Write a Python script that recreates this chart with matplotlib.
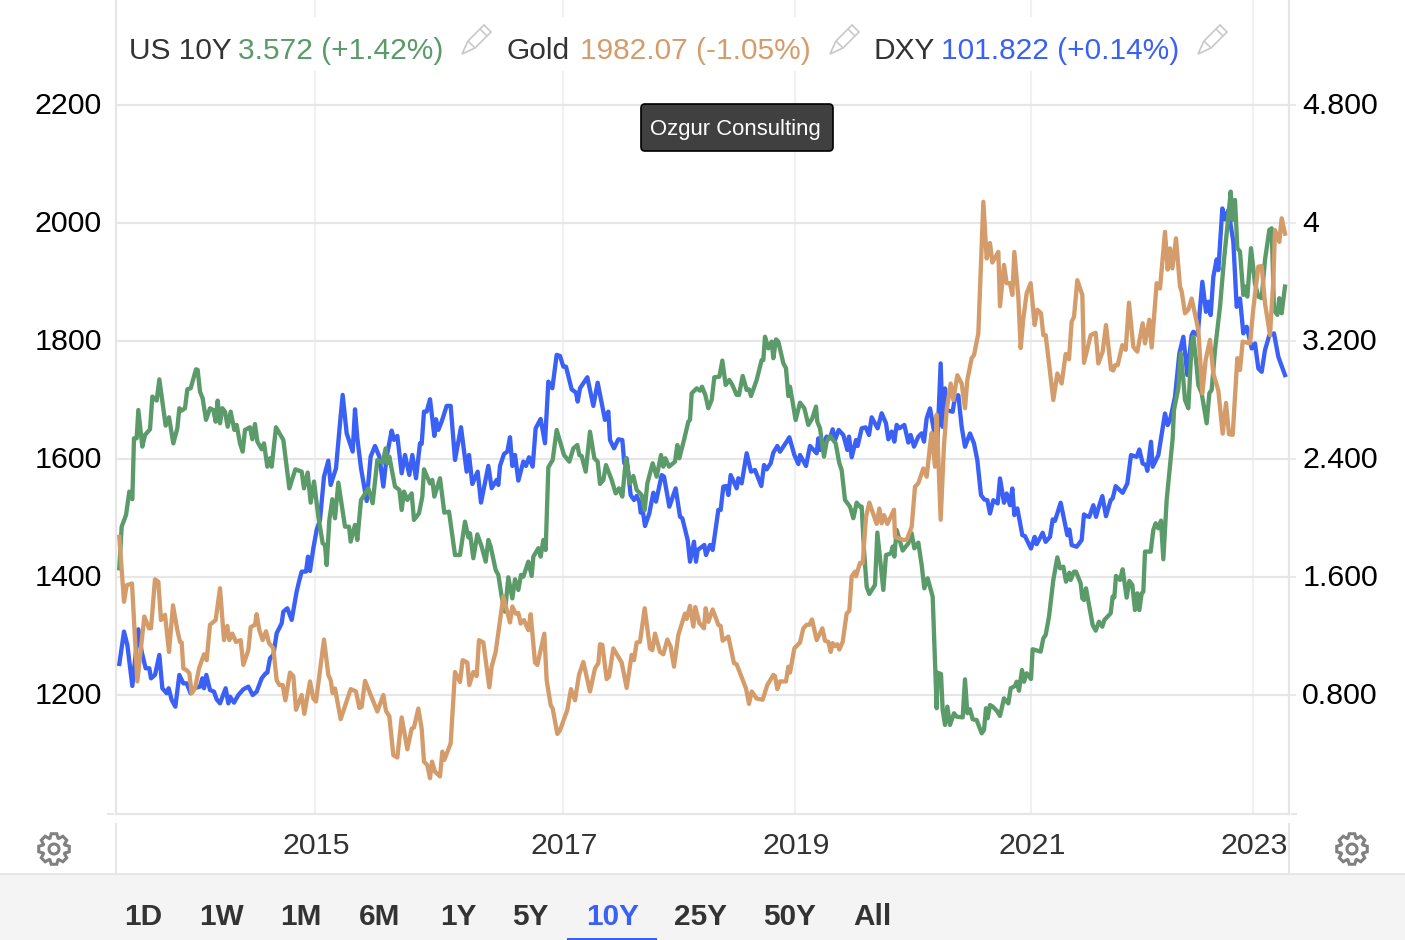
"""
US 10Y yield, gold and the dollar index over ten years, three independent scales.
"""

import numpy as np
import matplotlib
matplotlib.use("Agg")
import matplotlib.pyplot as plt
from matplotlib.lines import Line2D
from matplotlib.patches import Circle, FancyBboxPatch, Polygon, Rectangle
from matplotlib.transforms import Affine2D, IdentityTransform

plt.rcParams["font.family"] = ["Liberation Sans", "DejaVu Sans"]

# x is a bar number on the chart's ordinal time axis
gold_bar = [10, 24, 32, 48, 64, 74, 85, 99, 105, 117, 127, 135, 147, 159, 171, 184, 192, 197, 202, 212, 220, 227, 237, 249, 264, 272, 282, 299, 312, 324, 334, 340, 349, 360, 374, 382, 397, 404, 417, 422, 430, 440, 450, 459, 472, 482, 490, 500, 508, 522, 532, 540, 557, 565, 582, 592, 600, 624, 637, 644, 650, 657, 674, 704, 720, 730, 737, 747, 784, 802, 810, 820, 832, 844, 857, 874, 887, 894, 907, 917, 924, 934, 942, 948, 957, 972, 979, 985, 1004, 1017, 1032, 1040, 1054, 1060, 1072, 1082, 1089, 1102, 1120, 1127, 1139, 1162, 1182, 1189, 1199, 1207, 1214, 1224, 1237, 1244, 1257, 1264, 1285, 1292, 1304, 1310, 1324, 1332,
            1354, 1365, 1377, 1389, 1402, 1422, 1437, 1447, 1452, 1459, 1472, 1479, 1492, 1517, 1532, 1547, 1554, 1562, 1572, 1586, 1602, 1609, 1617, 1632, 1642, 1654, 1664, 1674, 1687, 1707, 1712, 1722, 1732, 1738, 1750, 1764, 1769, 1777, 1790, 1807, 1814, 1820, 1837, 1854, 1862, 1890, 1899, 1907, 1922, 1940, 1954, 1972, 1977, 1984, 1992, 2010, 2017, 2022, 2035, 2052, 2062, 2072, 2080, 2088, 2102, 2119, 2127, 2137, 2144, 2150, 2157, 2164, 2170, 2180, 2192, 2200, 2207, 2217, 2220, 2232, 2240, 2250, 2260, 2282, 2290, 2297, 2304, 2314, 2334, 2337, 2362, 2372, 2387, 2397, 2407, 2422, 2432, 2444,
            2447, 2457, 2462, 2474, 2484, 2492, 2504, 2512, 2524, 2537, 2547, 2554, 2567, 2574, 2587, 2602, 2612, 2622, 2629, 2647, 2652, 2664, 2672, 2682, 2689, 2695, 2707, 2714, 2722, 2732, 2744, 2756, 2764, 2775, 2782, 2789, 2812, 2824, 2837, 2849, 2859, 2867, 2874, 2884, 2899, 2904, 2924, 2939, 2947, 2960, 2970, 2985, 2992, 2997, 3005, 3019, 3029, 3039, 3052, 3064, 3080, 3087, 3100, 3107, 3122, 3132, 3147, 3155, 3162, 3169, 3180, 3192, 3197, 3207, 3217, 3227, 3247, 3259, 3269, 3282, 3292, 3307, 3320, 3330, 3339, 3350, 3364, 3372, 3380, 3402, 3412, 3427, 3437, 3447, 3462, 3472, 3477, 3490, 3497, 3507]
gold_price = [1468, 1358, 1386, 1389, 1223, 1276, 1333, 1313, 1313, 1396, 1392, 1327, 1336, 1273, 1352, 1310, 1290, 1289, 1245, 1242, 1237, 1203, 1211, 1245, 1269, 1259, 1319, 1327, 1381, 1293, 1317, 1293, 1304, 1290, 1293, 1251, 1276, 1315, 1319, 1337, 1310, 1293, 1308, 1288, 1279, 1225, 1217, 1217, 1191, 1238, 1232, 1175, 1200, 1168, 1223, 1194, 1189, 1294, 1234, 1225, 1203, 1211, 1159, 1210, 1206, 1178, 1180, 1224, 1172, 1200, 1173, 1164, 1098, 1094, 1162, 1108, 1143, 1145, 1177, 1143, 1087, 1081, 1059, 1087, 1070, 1062, 1104, 1090, 1118, 1239, 1222, 1259, 1255, 1217, 1239, 1232, 1293, 1289, 1213, 1248, 1273, 1367, 1323, 1350, 1338, 1339, 1321, 1327, 1310, 1337, 1255, 1251, 1304, 1225, 1183, 1177, 1134, 1140,
              1175, 1210, 1191, 1234, 1256, 1206, 1245, 1254, 1286, 1285, 1227, 1231, 1279, 1255, 1212, 1268, 1259, 1289, 1290, 1347, 1279, 1276, 1304, 1273, 1269, 1294, 1282, 1248, 1302, 1338, 1329, 1351, 1316, 1349, 1322, 1313, 1347, 1324, 1345, 1319, 1317, 1292, 1299, 1254, 1252, 1211, 1185, 1206, 1194, 1192, 1217, 1234, 1232, 1210, 1223, 1223, 1248, 1238, 1279, 1289, 1313, 1319, 1319, 1328, 1293, 1313, 1292, 1290, 1273, 1288, 1283, 1286, 1277, 1290, 1338, 1343, 1401, 1409, 1401, 1424, 1423, 1502, 1526, 1490, 1516, 1491, 1505, 1490, 1514, 1468, 1463, 1463, 1485, 1553, 1559, 1584, 1570, 1632,
              1644, 1587, 1675, 1497, 1624, 1683, 1728, 1700, 1742, 1728, 1686, 1734, 1771, 1776, 1813, 2036, 1940, 1966, 1933, 1951, 1859, 1929, 1898, 1898, 1878, 1951, 1875, 1788, 1838, 1881, 1898, 1827, 1853, 1847, 1810, 1810, 1700, 1745, 1728, 1778, 1769, 1833, 1841, 1903, 1878, 1763, 1810, 1814, 1762, 1782, 1827, 1752, 1750, 1759, 1759, 1793, 1785, 1865, 1790, 1782, 1830, 1796, 1836, 1789, 1898, 1889, 1985, 1921, 1957, 1923, 1974, 1892, 1884, 1847, 1853, 1872, 1819, 1711, 1768, 1802, 1745, 1716, 1643, 1695, 1642, 1641, 1771, 1751, 1799, 1796, 1855, 1926, 1927, 1864, 1810, 1903, 1988, 1968, 2008, 1982]

dxy_bar = [10, 24, 34, 49, 67, 77, 89, 100, 105, 117, 130, 139, 152, 158, 167, 178, 190, 202, 212, 224, 235, 252, 259, 264, 271, 282, 294, 302, 312, 329, 337, 342, 354, 367, 382, 397, 410, 422, 437, 449, 454, 462, 472, 482, 497, 502, 514, 527, 542, 549, 557, 570, 576, 582, 592, 602, 612, 624, 637, 644, 660, 672, 680, 692, 710, 717, 724, 735, 752, 764, 777, 790, 802, 812, 827, 834, 844, 857, 867, 880, 889, 900, 912, 917, 924, 932, 942, 955, 960, 967, 977, 992, 1004, 1017, 1035, 1052, 1059, 1069, 1085, 1095, 1117, 1127, 1142, 1147, 1152, 1164, 1174, 1182, 1189, 1197, 1207, 1222, 1230, 1239, 1250, 1259, 1274, 1287, 1297, 1309, 1322, 1332,
           1342, 1350, 1367, 1380, 1385, 1392, 1414, 1432, 1445, 1467, 1477, 1482, 1494, 1507, 1519, 1525, 1532, 1544, 1554, 1562, 1570, 1574, 1580, 1587, 1600, 1612, 1620, 1637, 1644, 1660, 1679, 1692, 1699, 1715, 1722, 1734, 1740, 1745, 1765, 1770, 1782, 1790, 1807, 1814, 1822, 1832, 1837, 1844, 1862, 1867, 1877, 1892, 1905, 1917, 1936, 1944, 1952, 1964, 1972, 1984, 1992, 2012, 2020, 2035, 2047, 2052, 2070, 2082, 2102, 2107, 2112, 2132, 2142, 2150, 2157, 2168, 2182, 2194, 2199, 2207, 2220, 2225, 2237, 2249, 2259, 2267, 2285, 2297, 2310, 2317, 2327, 2335, 2342, 2350, 2365, 2377, 2384, 2394, 2407, 2417, 2424, 2432, 2442,
           2457, 2464, 2474, 2480, 2487, 2492, 2510, 2517, 2527, 2537, 2547, 2562, 2574, 2584, 2595, 2605, 2614, 2622, 2632, 2645, 2652, 2664, 2672, 2682, 2689, 2695, 2704, 2719, 2727, 2745, 2756, 2762, 2780, 2789, 2802, 2810, 2817, 2834, 2854, 2860, 2867, 2882, 2897, 2904, 2912, 2920, 2932, 2940, 2947, 2959, 2970, 2984, 2990, 2999, 3020, 3034, 3045, 3062, 3070, 3080, 3090, 3094, 3105, 3110, 3127, 3147, 3155, 3162, 3177, 3190, 3202, 3214, 3227, 3232, 3245, 3259, 3270, 3277, 3284, 3292, 3302, 3307, 3319, 3327, 3337, 3352, 3362, 3372, 3382, 3392, 3400, 3407, 3417, 3427, 3437, 3447, 3460, 3474, 3487, 3507]
dxy_index = [80.52, 82.90, 81.92, 78.90, 83.07, 81.42, 80.20, 80.20, 79.46, 79.71, 81.18, 78.73, 78.36, 78.73, 77.87, 77.37, 79.71, 79.09, 79.09, 78.36, 78.73, 78.85, 79.46, 78.73, 79.71, 78.60, 78.48, 77.91, 77.62, 78.73, 77.62, 78.11, 77.67, 78.23, 78.65, 78.85, 78.23, 78.48, 79.46, 79.83, 79.88, 80.94, 81.18, 82.78, 83.51, 84.37, 84.62, 83.76, 85.85, 86.58, 87.32, 87.32, 88.42, 87.37, 89.04, 90.39, 91.12, 94.31, 95.49, 93.70, 94.93, 98.24, 100.33, 97.50, 96.16, 99.27, 97.14, 94.93, 92.52, 95.79, 96.57, 95.79, 93.58, 95.79, 97.70, 97.02, 97.31, 94.56, 95.91, 94.44, 95.91, 94.19, 96.77, 96.72, 99.10, 99.10, 100.01, 97.31, 98.54, 97.75, 98.37, 99.52, 99.52, 95.54, 97.95, 94.68, 95.91, 93.77, 94.68, 92.40, 95.10, 93.46, 94.07, 93.70, 95.10, 95.98, 96.16, 97.21, 95.10, 95.91, 94.02, 95.42, 95.10, 95.74, 95.05, 97.87, 98.56, 96.77, 101.31, 100.82, 103.28, 103.20,
             102.41, 102.41, 100.74, 100.50, 99.84, 100.82, 101.63, 99.52, 101.23, 98.49, 99.10, 97.01, 96.40, 97.06, 97.01, 95.29, 95.66, 92.96, 92.59, 92.89, 92.47, 91.66, 91.86, 90.68, 91.61, 93.13, 92.47, 94.43, 94.31, 92.10, 93.45, 91.37, 91.24, 89.65, 88.05, 89.52, 88.05, 88.91, 89.28, 88.54, 89.28, 88.91, 91.86, 91.86, 93.58, 93.62, 92.96, 94.43, 93.45, 94.19, 93.82, 96.03, 94.68, 94.80, 93.62, 95.17, 94.85, 95.29, 96.08, 96.57, 96.15, 96.89, 97.21, 95.91, 95.24, 95.91, 95.10, 96.57, 96.03, 97.13, 96.28, 97.26, 97.13, 97.80, 97.01, 97.75, 97.38, 96.28, 97.26, 95.74, 97.01, 96.57, 97.87, 97.94, 97.38, 98.68, 97.87, 98.98, 98.24, 97.06, 97.63, 96.89, 98.12, 97.87, 98.12, 96.82, 97.38, 96.52, 97.26, 97.50, 96.89, 98.61, 99.34,
             97.25, 96.76, 102.65, 97.98, 100.81, 99.21, 99.09, 100.19, 100.31, 97.98, 96.51, 97.49, 96.76, 95.53, 92.95, 92.63, 92.58, 91.60, 92.58, 92.34, 94.18, 92.39, 93.07, 92.21, 93.44, 91.48, 91.97, 90.00, 89.93, 89.02, 89.88, 89.34, 90.18, 89.51, 89.88, 91.16, 91.06, 92.39, 90.00, 90.42, 89.27, 89.15, 89.64, 91.53, 91.40, 91.35, 92.21, 91.35, 91.97, 92.88, 91.40, 92.58, 92.71, 93.61, 93.12, 93.81, 95.90, 95.77, 96.31, 95.28, 95.16, 94.74, 96.88, 95.04, 95.90, 98.96, 98.11, 98.47, 100.19, 103.38, 104.61, 101.79, 104.73, 104.98, 104.73, 108.66, 106.45, 107.19, 106.21, 109.03, 110.31, 109.52, 114.06, 113.25, 113.94, 111.61, 106.82, 107.43, 104.86, 105.35, 104.49, 103.75, 104.12, 102.28, 102.03, 103.63, 104.73, 104.86, 103.14, 101.79]

us10y_bar = [10, 17, 30, 40, 49, 54, 62, 67, 79, 87, 102, 109, 122, 130, 149, 159, 172, 184, 190, 197, 207, 214, 224, 240, 245, 252, 260, 270, 282, 292, 299, 305, 312, 319, 327, 335, 344, 355, 362, 372, 380, 387, 402, 409, 417, 424, 437, 444, 454, 462, 467, 480, 502, 520, 538, 557, 564, 575, 584, 594, 607, 620, 627, 632, 640, 649, 657, 667, 687, 699, 704, 717, 724, 735, 742, 757, 770, 784, 800, 809, 814, 820, 837, 850, 857, 864, 874, 887, 894, 909, 919, 924, 942, 949, 955, 972, 985, 999, 1017, 1032, 1047, 1057, 1062, 1072, 1084, 1097, 1109, 1117, 1124, 1139, 1147, 1157, 1167, 1177, 1189, 1197, 1207, 1215, 1222, 1237, 1247, 1252, 1267, 1274, 1282, 1289, 1297, 1310, 1322,
             1344, 1360, 1372, 1384, 1390, 1397, 1409, 1422, 1435, 1445, 1452, 1462, 1470, 1487, 1499, 1509, 1519, 1530, 1542, 1552, 1562, 1577, 1586, 1594, 1610, 1622, 1635, 1642, 1648, 1659, 1677, 1684, 1690, 1704, 1717, 1722, 1727, 1742, 1752, 1758, 1768, 1777, 1787, 1795, 1810, 1819, 1829, 1840, 1849, 1862, 1869, 1880, 1892, 1899, 1905, 1922, 1937, 1942, 1947, 1957, 1967, 1972, 1980, 1987, 2002, 2010, 2017, 2022, 2039, 2052, 2065, 2077, 2089, 2100, 2104, 2112, 2124, 2132, 2142, 2159, 2170, 2177, 2187, 2202, 2212, 2222, 2232, 2237, 2244, 2252, 2260, 2277, 2284, 2302, 2310, 2325, 2330, 2335, 2342, 2360, 2377, 2387, 2395, 2407, 2417, 2425, 2435, 2450, 2462, 2465, 2475, 2480, 2487, 2494, 2502,
             2514, 2522, 2540, 2547, 2554, 2562, 2570, 2582, 2597, 2604, 2610, 2615, 2622, 2630, 2642, 2652, 2664, 2677, 2684, 2697, 2702, 2709, 2718, 2724, 2732, 2745, 2750, 2774, 2782, 2789, 2799, 2812, 2824, 2832, 2842, 2850, 2860, 2864, 2874, 2880, 2894, 2899, 2904, 2910, 2930, 2939, 2949, 2959, 2965, 2984, 2990, 2995, 3000, 3012, 3020, 3032, 3040, 3049, 3057, 3064, 3070, 3077, 3082, 3087, 3104, 3112, 3119, 3127, 3135, 3142, 3152,
             3170, 3174, 3187, 3194, 3202, 3207, 3217, 3227, 3232, 3242, 3247, 3257, 3267, 3272, 3280, 3287, 3297, 3312, 3324, 3337, 3344, 3350, 3357, 3364, 3372, 3382, 3387, 3394, 3405, 3417, 3427, 3437, 3447, 3460, 3467, 3474, 3484, 3490, 3497, 3507]
us10y_yield = [1.659, 1.941, 2.020, 2.179, 2.127, 2.540, 2.540, 2.732, 2.484, 2.563, 2.601, 2.823, 2.796, 2.940, 2.626, 2.683, 2.506, 2.608, 2.744, 2.728, 2.744, 2.873, 2.879, 3.008, 3.004, 2.857, 2.811, 2.665, 2.744, 2.732, 2.653, 2.796, 2.642, 2.744, 2.721, 2.619, 2.721, 2.597, 2.631, 2.506, 2.450, 2.597, 2.615, 2.534, 2.637, 2.518, 2.466, 2.506, 2.348, 2.405, 2.348, 2.615, 2.529, 2.201, 2.330, 2.314, 2.201, 2.308, 2.104, 2.247, 2.009, 1.828, 1.817, 1.681, 1.987, 2.127, 1.998, 2.240, 1.941, 1.941, 1.840, 1.953, 1.851, 2.122, 2.145, 2.201, 2.100, 2.393, 2.375, 2.472, 2.371, 2.416, 2.213, 2.190, 2.054, 2.179, 2.122, 2.167, 1.987, 2.032, 2.145, 2.330, 2.235, 2.258, 2.145, 2.269, 2.036, 2.043, 1.749, 1.749, 1.975, 1.869, 1.896, 1.727, 1.889, 1.806, 1.704, 1.851, 1.806, 1.648, 1.614, 1.467, 1.365, 1.598, 1.455, 1.584, 1.512, 1.614, 1.602, 1.704, 1.607, 1.738, 1.795, 1.738, 1.851, 1.783, 2.344, 2.393, 2.597,
               2.427, 2.382, 2.472, 2.495, 2.427, 2.420, 2.314, 2.585, 2.405, 2.382, 2.231, 2.258, 2.359, 2.258, 2.167, 2.201, 2.145, 2.405, 2.235, 2.285, 2.190, 2.156, 2.054, 2.235, 2.371, 2.280, 2.427, 2.348, 2.405, 2.348, 2.382, 2.495, 2.405, 2.529, 2.653, 2.665, 2.845, 2.879, 2.863, 2.890, 2.834, 2.744, 2.800, 2.954, 2.958, 3.067, 2.902, 2.936, 2.902, 2.834, 2.834, 2.963, 2.868, 2.872, 2.827, 2.936, 3.071, 3.071, 3.229, 3.150, 3.196, 3.083, 3.211, 3.196, 3.049, 3.015, 2.827, 2.890, 2.664, 2.782, 2.744, 2.631, 2.676, 2.755, 2.653, 2.608, 2.416, 2.518, 2.556, 2.506, 2.371, 2.325, 2.122, 2.077, 1.998, 2.104, 2.077, 2.077, 1.783, 1.534, 1.485, 1.546, 1.901, 1.512, 1.749, 1.760, 1.806, 1.738, 1.919, 1.779, 1.828, 1.896, 1.794, 1.833, 1.681, 1.523, 1.591, 1.467, 0.710, 0.951, 0.942, 0.698, 0.597, 0.721, 0.597,
               0.676, 0.653, 0.648, 0.906, 0.676, 0.703, 0.635, 0.630, 0.540, 0.563, 0.710, 0.642, 0.732, 0.721, 0.694, 0.658, 0.777, 0.743, 0.845, 0.861, 0.890, 0.829, 0.969, 0.890, 0.947, 0.908, 1.110, 1.094, 1.184, 1.207, 1.331, 1.580, 1.733, 1.659, 1.670, 1.568, 1.629, 1.580, 1.636, 1.636, 1.557, 1.455, 1.444, 1.523, 1.274, 1.236, 1.297, 1.263, 1.308, 1.354, 1.467, 1.462, 1.607, 1.580, 1.652, 1.460, 1.573, 1.546, 1.376, 1.489, 1.376, 1.489, 1.500, 1.772, 1.772, 1.919, 1.964, 1.930, 1.982, 1.720, 2.122,
               2.540, 2.733, 2.880, 3.117, 2.936, 2.800, 2.744, 3.185, 3.230, 3.026, 2.902, 2.846, 2.710, 2.642, 2.846, 2.868, 3.139, 3.433, 3.750, 4.043, 4.213, 4.021, 4.156, 3.829, 3.806, 3.512, 3.569, 3.501, 3.829, 3.591, 3.501, 3.490, 3.750, 3.953, 3.964, 3.411, 3.377, 3.490, 3.388, 3.569]

year_bars = [597, 1341, 2037, 2745, 3411]
year_labels = ["2015", "2017", "2019", "2021", "2023"]
gold_ticks = [1200, 1400, 1600, 1800, 2000, 2200]
yield_ticks = [0.8, 1.6, 2.4, 3.2, 4.0, 4.8]
yield_labels = ["0.800", "1.600", "2.400", "3.200", "4", "4.800"]
range_buttons = ["1D", "1W", "1M", "6M", "1Y", "5Y", "10Y", "25Y", "50Y", "All"]

GREEN = "#5b9a69"
GOLD = "#d49c6a"
BLUE = "#3a60f5"
DARK = "#333333"
RULE = "#e6e6e6"
PIXEL = IdentityTransform()
HEIGHT = 940
LINE_WIDTH = 3.1
LABEL_SIZE = 21.9


def px_line(fig, x0, y0, x1, y1, color=RULE, width=2.0):
    fig.add_artist(Line2D([x0, x1], [HEIGHT - y0, HEIGHT - y1], transform=PIXEL,
                          color=color, lw=width * 0.72, solid_capstyle="butt", zorder=6))


def px_text(fig, x, y, s, **kw):
    fig.text(x, HEIGHT - y, s, transform=PIXEL, zorder=12, **kw)


def nudge(labels, dx, dy):
    for label in labels:
        label.set_transform(label.get_transform() + Affine2D().translate(dx, dy))


def draw_pencil(fig, x, y):
    # x, y is the pencil tip
    outline = [(0, 0), (6, -13), (22, -29), (29, -22), (13, -6)]
    fig.add_artist(Polygon([(x + a, HEIGHT - y - b) for a, b in outline], closed=True, transform=PIXEL,
                           fill=False, edgecolor="#c8c8c8", lw=1.2, zorder=12))
    px_line(fig, x + 18, y - 25, x + 25, y - 18, "#c8c8c8", 1.6)
    px_line(fig, x + 6, y - 13, x + 13, y - 6, "#c8c8c8", 1.6)


def draw_gear(fig, x, y):
    angles = np.linspace(0, 2 * np.pi, 8, endpoint=False) + np.pi / 2
    points = []
    for a in angles:
        for da, r in [(-0.36, 11.5), (-0.18, 15.5), (0.18, 15.5), (0.36, 11.5)]:
            points.append((x + r * np.cos(a + da), HEIGHT - y + r * np.sin(a + da)))
    fig.add_artist(Polygon(points, closed=True, transform=PIXEL, fill=False,
                           edgecolor="#808080", lw=2.2, zorder=12))
    fig.add_artist(Circle((x, HEIGHT - y), 5, transform=PIXEL, fill=False,
                          edgecolor="#808080", lw=2.2, zorder=12))


fig = plt.figure(figsize=(14.05, 9.4), dpi=100, facecolor="white")
ax = fig.add_axes([116 / 1405, (HEIGHT - 814) / HEIGHT, (1289 - 116) / 1405, 814 / HEIGHT])
ax_dxy = ax.twinx()
ax_us = ax.twinx()
ax_gold = ax.twinx()
ax_dxy.set_zorder(1)
ax_us.set_zorder(2)
ax_gold.set_zorder(3)

ax_dxy.plot(dxy_bar, dxy_index, color=BLUE, lw=LINE_WIDTH, solid_joinstyle="round")
ax_us.plot(us10y_bar, us10y_yield, color=GREEN, lw=LINE_WIDTH, solid_joinstyle="round")
ax_gold.plot(gold_bar, gold_price, color=GOLD, lw=LINE_WIDTH, solid_joinstyle="round")

for a in (ax, ax_dxy, ax_us, ax_gold):
    a.set_xlim(0, 3519)
ax.set_ylim(998.3, 2378)
ax_gold.set_ylim(998.3, 2378)
ax_us.set_ylim(-0.007, 5.512)
ax_dxy.set_ylim(69.47, 129.41)

ax.set_yticks(gold_ticks)
ax.set_xticks(year_bars, year_labels)
ax.grid(axis="y", color=RULE, lw=1.5)
ax.grid(axis="x", color="#eef1f5", lw=1.5)
ax.tick_params(axis="y", length=0, pad=10, labelsize=LABEL_SIZE, labelcolor="black")
ax.tick_params(axis="x", length=0, pad=13, labelsize=LABEL_SIZE, labelcolor=DARK)
for side in ("left", "right", "bottom"):
    ax.spines[side].set_color(RULE)
    ax.spines[side].set_linewidth(1.6)
ax.spines["top"].set_visible(False)

ax_us.set_yticks(yield_ticks, yield_labels)
ax_us.tick_params(axis="y", length=5, width=1.2, color=RULE, pad=4.5, labelsize=LABEL_SIZE, labelcolor="black")
ax_gold.yaxis.set_visible(False)
ax_dxy.yaxis.set_visible(False)
for a in (ax_dxy, ax_us, ax_gold):
    a.xaxis.set_visible(False)
    for spine in a.spines.values():
        spine.set_visible(False)

nudge(ax.get_yticklabels(), 0, 2)
nudge(ax.get_xticklabels(), 1.5, 0)
nudge(ax_us.get_yticklabels(), 0, 2)

# legend strip hides the vertical grid behind it
fig.add_artist(Rectangle((122, HEIGHT - 71), 1120, 54, transform=PIXEL, facecolor="white",
                         edgecolor="none", zorder=0.5))
px_text(fig, 129, 59, "US 10Y", color=DARK, fontsize=21.5)
px_text(fig, 238, 59, "3.572 (+1.42%)", color=GREEN, fontsize=21.5)
px_text(fig, 506, 59, "Gold", color=DARK, fontsize=21.5)
px_text(fig, 580, 59, "1982.07 (-1.05%)", color=GOLD, fontsize=21.5)
px_text(fig, 873, 59, "DXY", color=DARK, fontsize=21.5)
px_text(fig, 941, 59, "101.822 (+0.14%)", color=BLUE, fontsize=21.5)
for tip_x in (462, 830, 1198):
    draw_pencil(fig, tip_x, 54)

# watermark tooltip
fig.add_artist(FancyBboxPatch((641, HEIGHT - 151), 192, 47, boxstyle="round,pad=0,rounding_size=4",
                              transform=PIXEL, facecolor="#404040", edgecolor="black", lw=1.2, zorder=11))
px_text(fig, 735, 129, "Ozgur Consulting", color="white", fontsize=15.9, ha="center", va="center")

# axis pieces outside the plot frame
px_line(fig, 107, 814, 114, 814)
px_line(fig, 1291, 814, 1297, 814)
px_line(fig, 116, 823, 116, 874)
px_line(fig, 1289, 823, 1289, 874)
draw_gear(fig, 54, 849)
draw_gear(fig, 1352, 849)

# range selector
fig.add_artist(Rectangle((0, 0), 1405, HEIGHT - 875, transform=PIXEL, facecolor="#f4f4f4",
                         edgecolor="none", zorder=5))
px_line(fig, 0, 874, 1405, 874, RULE, 2.0)
button_x = [124, 199, 280, 359, 440, 512, 586, 674, 763, 853]
for label, x in zip(range_buttons, button_x):
    px_text(fig, x, 925, label, color=BLUE if label == "10Y" else DARK, fontsize=21.4, fontweight="bold")
px_line(fig, 567, 939, 657, 939, BLUE, 2.0)

fig.savefig("out.png", dpi=100)
plt.close()
